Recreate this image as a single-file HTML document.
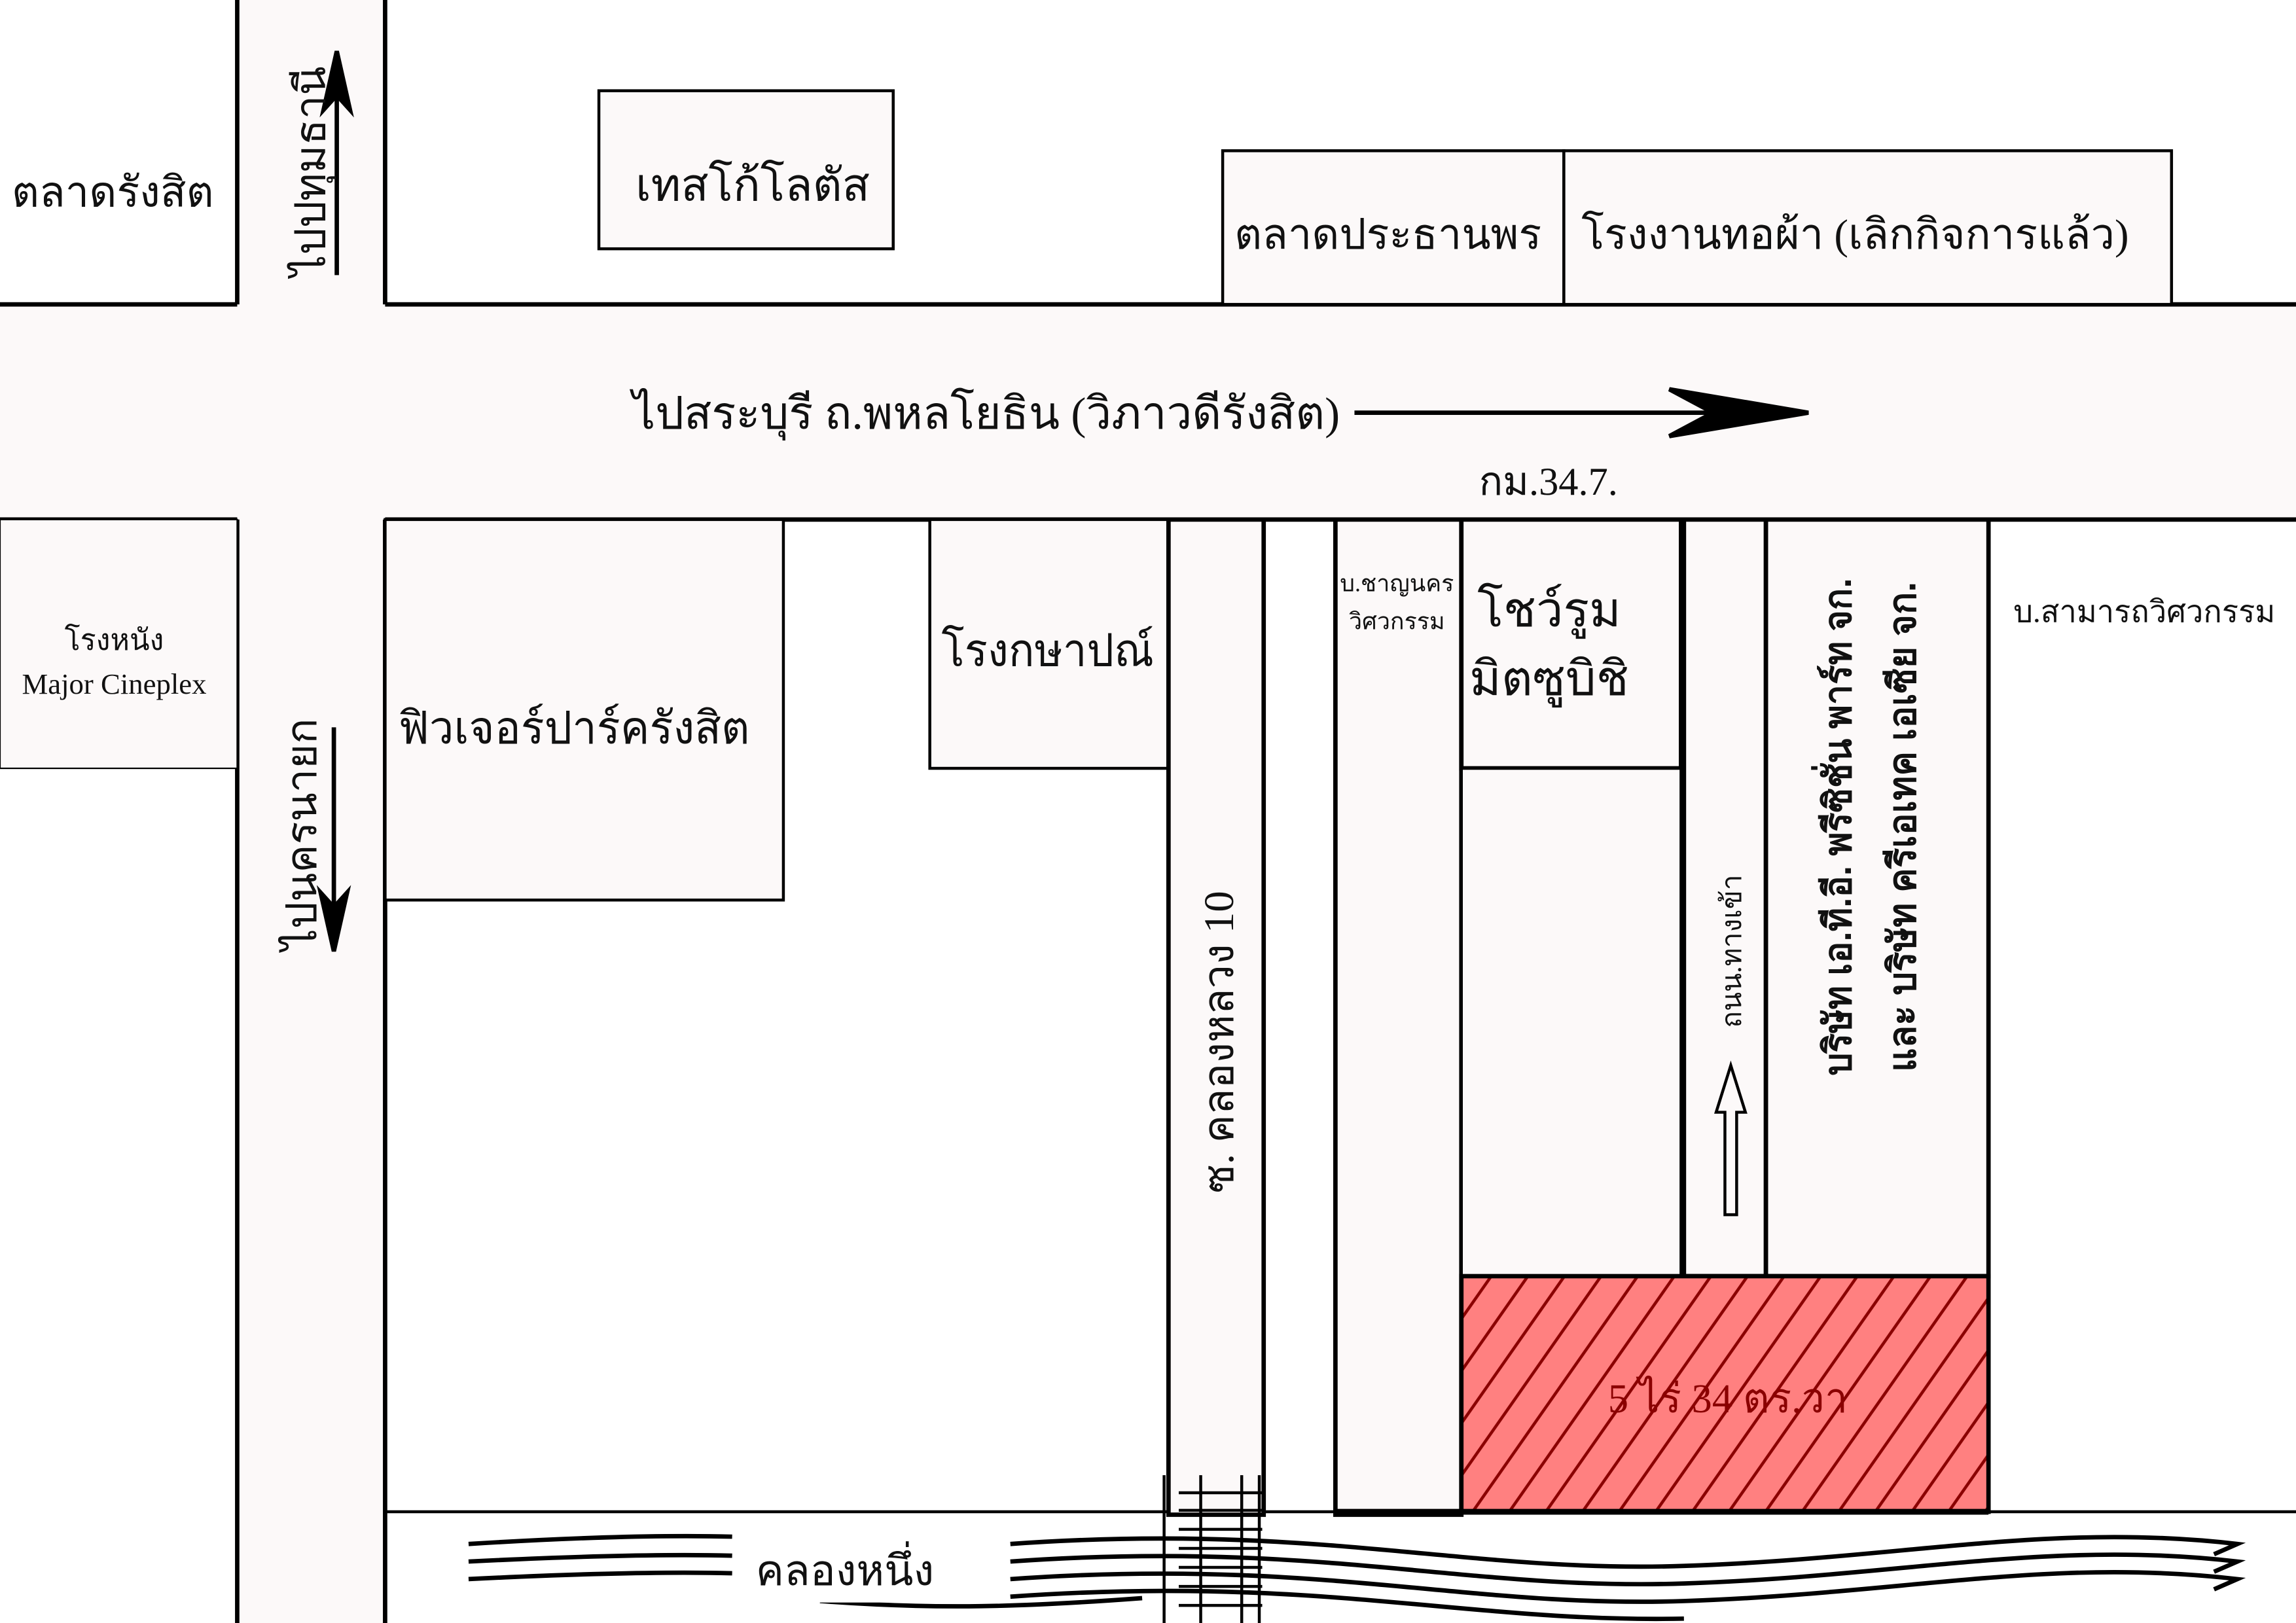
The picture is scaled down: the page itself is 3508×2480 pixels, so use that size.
<!DOCTYPE html>
<html><head><meta charset="utf-8"><style>
html,body{margin:0;padding:0;background:#fff;}
svg{display:block;}
text{font-family:"Liberation Serif","Noto Serif CJK SC","Noto Sans CJK SC",serif;fill:#111;}
</style></head><body>
<svg width="3508" height="2480" viewBox="0 0 1568 1109" preserveAspectRatio="none" xmlns="http://www.w3.org/2000/svg">
<defs>
<pattern id="h" patternUnits="userSpaceOnUse" width="25" height="40" patternTransform="skewX(-35)">
<rect width="25" height="40" fill="#ff8080"/>
<line x1="4" y1="0" x2="4" y2="40" stroke="#8a0000" stroke-width="2.5"/>
</pattern>
</defs>
<rect width="1568" height="1109" fill="#fff"/>
<rect x="0" y="208" width="1568" height="147" fill="#fcf9f9"/>
<rect x="162" y="0" width="101" height="1109" fill="#fcf9f9"/>
<g stroke="#000" stroke-width="3" fill="none">
<line x1="0" y1="208" x2="162" y2="208"/>
<line x1="263" y1="208" x2="1568" y2="208"/>
<line x1="0" y1="355" x2="162" y2="355"/>
<line x1="263" y1="355" x2="1568" y2="355"/>
<line x1="162" y1="0" x2="162" y2="208"/>
<line x1="263" y1="0" x2="263" y2="208"/>
<line x1="162" y1="355" x2="162" y2="1109"/>
<line x1="263" y1="355" x2="263" y2="1109"/>
<line x1="263" y1="1033" x2="1568" y2="1033" stroke-width="2"/>
</g>
<g stroke="#000" stroke-width="2" fill="#fcf9f9">
<rect x="409" y="62" width="201" height="108"/>
<rect x="835" y="103" width="233" height="105"/>
<rect x="1068" y="103" width="415" height="105"/>
<rect x="0" y="355" width="162" height="170" stroke-width="1"/>
<rect x="263" y="355" width="272" height="260"/>
<rect x="635" y="355" width="163" height="170"/>
<rect x="798" y="355" width="65" height="680" stroke-width="3"/>
<rect x="912" y="355" width="86" height="680" stroke-width="3"/>
<rect x="998" y="355" width="150" height="170" stroke-width="3"/>
<rect x="998" y="525" width="150" height="347" stroke-width="2"/>
<rect x="1150" y="355" width="56" height="517" stroke-width="3"/>
<rect x="1206" y="355" width="152" height="517" stroke-width="3"/>
</g>
<rect x="998" y="872" width="360" height="161" fill="url(#h)" stroke="#000" stroke-width="3"/>
<line x1="912" y1="1033" x2="1358" y2="1033" stroke="#000" stroke-width="4"/>
<g stroke="#000" stroke-width="3" fill="none">
<path d="M320 1055 C400 1050 460 1049 500 1050"/>
<path d="M320 1067 C400 1063 460 1062 500 1063"/>
<path d="M320 1079 C400 1075 460 1074 500 1075"/>
<path d="M560 1094 C640 1100 700 1098 780 1092"/>
<path d="M690 1055 C900 1040 1000 1075 1150 1070 C1300 1065 1400 1040 1528 1055 L1512 1062"/>
<path d="M690 1067 C900 1052 1000 1087 1150 1082 C1300 1077 1400 1052 1528 1067 L1512 1074"/>
<path d="M690 1079 C900 1064 1000 1099 1150 1094 C1300 1089 1400 1064 1528 1079 L1512 1086"/>
<path d="M690 1091 C900 1076 1000 1109 1150 1106"/>
</g>
<rect x="505" y="1050" width="150" height="45" fill="#fff"/>
<g stroke="#000" stroke-width="2" fill="none">
<line x1="795" y1="1008" x2="795" y2="1109"/>
<line x1="860" y1="1008" x2="860" y2="1109"/>
<line x1="820" y1="1008" x2="820" y2="1109"/>
<line x1="848" y1="1008" x2="848" y2="1109"/>
<line x1="805" y1="1020" x2="862" y2="1020"/>
<line x1="805" y1="1032" x2="862" y2="1032"/>
<line x1="805" y1="1045" x2="862" y2="1045"/>
<line x1="805" y1="1058" x2="862" y2="1058"/>
<line x1="805" y1="1071" x2="862" y2="1071"/>
<line x1="805" y1="1084" x2="862" y2="1084"/>
<line x1="805" y1="1097" x2="862" y2="1097"/>
</g>
<g stroke="#000" stroke-width="3" fill="#000">
<line x1="230" y1="188" x2="230" y2="55"/>
<path d="M230 35 L221 75 L230 65 L239 75 Z"/>
<line x1="228" y1="497" x2="228" y2="630"/>
<path d="M228 650 L219 610 L228 620 L237 610 Z"/>
<line x1="925" y1="282" x2="1215" y2="282"/>
<path d="M1235 282 L1140 266 L1170 282 L1140 298 Z"/>
</g>
<g stroke="#000" stroke-width="2" fill="none">
<path d="M1178 830 L1178 760 L1172 760 L1182 728 L1192 760 L1186 760 L1186 830 Z"/>
</g>
<text x="8" y="141" font-size="29">ตลาดรังสิต</text>
<text x="434" y="137" font-size="31">เทสโก้โลตัส</text>
<text x="843" y="170" font-size="29">ตลาดประธานพร</text>
<text x="1080" y="170" font-size="29">โรงงานทอผ้า (เลิกกิจการแล้ว)</text>
<text x="432" y="293" font-size="31" textLength="483" lengthAdjust="spacingAndGlyphs">ไปสระบุรี ถ.พหลโยธิน (วิภาวดีรังสิต)</text>
<text x="1010" y="338" font-size="27">กม.34.7.</text>
<text x="78" y="444" font-size="20" text-anchor="middle">โรงหนัง</text>
<text x="78" y="474" font-size="20" text-anchor="middle">Major Cineplex</text>
<text x="272" y="508" font-size="31" textLength="240" lengthAdjust="spacingAndGlyphs">ฟิวเจอร์ปาร์ครังสิต</text>
<text x="643" y="455" font-size="31" textLength="145" lengthAdjust="spacingAndGlyphs">โรงกษาปณ์</text>
<text x="954" y="404" font-size="16" text-anchor="middle">บ.ชาญนคร</text>
<text x="954" y="430" font-size="16" text-anchor="middle">วิศวกรรม</text>
<text x="1058" y="428" font-size="33" text-anchor="middle">โชว์รูม</text>
<text x="1058" y="475" font-size="33" text-anchor="middle">มิตซูบิชิ</text>
<text x="1375" y="425" font-size="21">บ.สามารถวิศวกรรม</text>
<text x="577" y="1083" font-size="29" text-anchor="middle">คลองหนึ่ง</text>
<text x="1180" y="965" font-size="28" text-anchor="middle" style="fill:#8a0000">5 ไร่ 34  ตร.วา</text>
<text transform="translate(222,117) rotate(-90)" font-size="29" text-anchor="middle">ไปปทุมธานี</text>
<text transform="translate(216,570) rotate(-90)" font-size="29" text-anchor="middle">ไปนครนายก</text>
<text transform="translate(842,712) rotate(-90)" font-size="29" text-anchor="middle">ซ. คลองหลวง 10</text>
<text transform="translate(1189,650) rotate(-90)" font-size="19" text-anchor="middle">ถนน.ทางเข้า</text>
<text transform="translate(1264,565) rotate(-90)" font-size="26" font-weight="bold" text-anchor="middle" textLength="340" lengthAdjust="spacingAndGlyphs" style="font-family:'Liberation Sans','Noto Sans CJK SC',sans-serif">บริษัท เอ.ที.อี. พรีซิชั่น พาร์ท จก.</text>
<text transform="translate(1308,565) rotate(-90)" font-size="26" font-weight="bold" text-anchor="middle" textLength="335" lengthAdjust="spacingAndGlyphs" style="font-family:'Liberation Sans','Noto Sans CJK SC',sans-serif">และ บริษัท ครีเอเทค เอเซีย จก.</text>
</svg>
</body></html>
